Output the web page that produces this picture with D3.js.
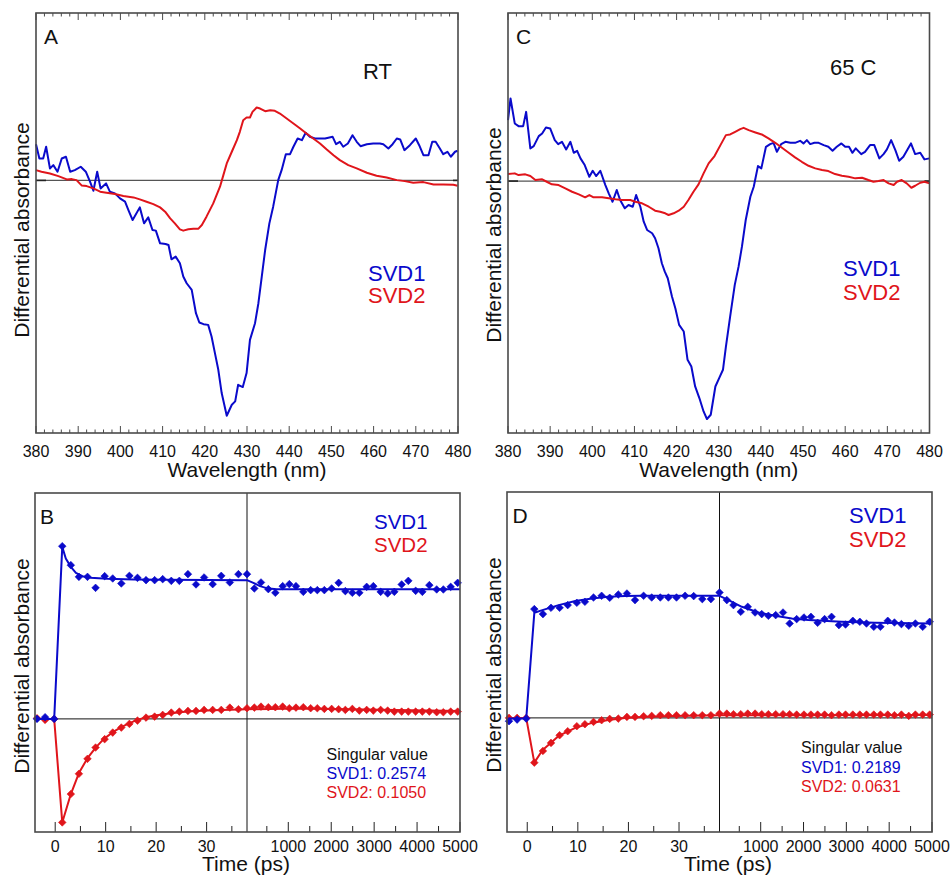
<!DOCTYPE html>
<html><head><meta charset="utf-8">
<script src="https://cdn.jsdelivr.net/npm/d3@7"></script>
<style>
body{margin:0;background:#fff}
svg{display:block}
text{font-family:"Liberation Sans",Arial,Helvetica,sans-serif}
</style>
</head><body>
<svg id="chart" width="951" height="879"></svg>
<script>
// ---------------- DATA ----------------
// Panel A (RT) spectra
const A_svd1_nm = [380.0,380.8,381.7,382.4,383.3,384.1,385.1,386.1,387.1,388.1,389.2,390.6,391.8,392.8,393.6,394.5,395.3,396.6,397.5,398.7,399.9,401.1,401.9,402.9,404.6,405.6,406.6,407.6,408.4,409.4,410.7,411.4,412.1,413.1,414.1,414.9,415.7,416.9,417.9,418.7,419.7,420.8,421.6,422.4,423.2,424.0,425.2,426.4,427.2,427.9,429.0,429.9,430.7,431.9,432.7,433.5,434.3,435.3,436.2,437.4,438.2,439.2,440.2,441.0,442.0,443.0,443.9,444.9,446.1,447.3,448.5,450.3,451.1,452.0,452.8,453.9,455.0,456.0,456.9,458.4,459.9,461.5,462.3,463.5,464.5,465.5,466.3,467.3,468.6,470.0,470.8,471.8,473.0,473.9,474.7,475.7,476.5,477.5,478.3,479.3,479.9];
const A_svd1 = [0.363,0.220,0.220,0.337,0.120,0.153,0.087,0.220,0.237,0.087,0.103,0.137,0.087,-0.013,-0.103,0.087,-0.080,-0.030,-0.113,-0.130,-0.180,-0.213,-0.297,-0.397,-0.270,-0.430,-0.370,-0.497,-0.503,-0.630,-0.637,-0.647,-0.790,-0.763,-0.830,-0.963,-1.030,-1.097,-1.330,-1.423,-1.440,-1.447,-1.563,-1.730,-1.897,-2.130,-2.357,-2.247,-2.213,-2.047,-2.070,-1.930,-1.597,-1.430,-1.230,-0.963,-0.697,-0.430,-0.263,0.003,0.103,0.263,0.263,0.337,0.420,0.403,0.477,0.437,0.420,0.420,0.420,0.437,0.363,0.387,0.337,0.370,0.453,0.387,0.343,0.363,0.370,0.370,0.363,0.320,0.363,0.420,0.410,0.303,0.353,0.420,0.353,0.253,0.253,0.387,0.387,0.320,0.263,0.287,0.237,0.287,0.297];
const A_svd2_nm = [380.0,381.3,383.3,385.3,387.3,388.5,389.6,390.8,392.0,393.6,395.2,396.7,398.7,400.7,403.1,404.6,406.2,407.8,409.4,410.6,411.8,412.9,414.1,414.9,416.1,417.3,418.5,419.3,420.4,422.0,423.6,424.4,425.2,426.4,427.6,428.3,429.1,429.9,430.7,431.3,432.3,433.1,434.3,435.5,436.6,437.8,439.4,441.0,442.6,444.1,445.7,447.3,448.9,450.5,452.0,454.0,456.0,458.4,460.7,463.1,465.5,467.4,469.4,471.8,474.2,476.5,478.9,479.9];
const A_svd2 = [0.103,0.087,0.070,0.043,0.010,0.013,0.003,-0.050,-0.057,-0.080,-0.113,-0.123,-0.137,-0.157,-0.170,-0.190,-0.213,-0.237,-0.270,-0.313,-0.380,-0.430,-0.490,-0.503,-0.490,-0.483,-0.483,-0.447,-0.363,-0.230,-0.063,0.053,0.170,0.287,0.403,0.487,0.603,0.630,0.630,0.687,0.730,0.720,0.693,0.703,0.697,0.670,0.620,0.570,0.520,0.470,0.420,0.370,0.310,0.253,0.203,0.153,0.120,0.077,0.047,0.030,0.003,-0.007,-0.023,-0.017,-0.040,-0.040,-0.043,-0.053];

// Panel C (65 C) spectra
const C_svd1_nm = [380.0,380.6,381.6,382.5,383.6,384.3,385.3,386.1,387.3,388.1,389.0,390.0,391.1,391.9,392.8,393.8,394.8,395.6,396.4,397.2,398.2,399.3,400.1,400.9,401.9,403.1,403.9,404.8,405.8,406.6,407.7,408.6,409.6,410.4,411.4,412.2,413.0,414.2,414.9,415.7,416.5,417.2,417.9,418.9,419.7,420.6,421.7,422.6,423.5,424.4,425.4,426.4,427.2,428.1,429.2,430.1,431.0,431.7,432.7,433.8,434.7,435.5,436.4,437.5,438.3,439.3,440.1,441.2,442.2,443.0,443.8,444.8,445.8,447.0,448.1,449.3,450.1,450.9,451.7,452.7,453.7,454.9,456.0,457.0,458.0,459.1,460.0,460.9,461.7,462.5,463.8,464.7,465.9,466.9,468.1,469.1,469.9,470.9,471.9,472.8,473.8,475.6,476.6,477.8,478.8,480.0];
const C_svd1 = [0.610,0.827,0.577,0.550,0.550,0.693,0.327,0.350,0.450,0.477,0.537,0.527,0.410,0.370,0.393,0.317,0.393,0.283,0.303,0.227,0.160,0.043,0.103,0.050,0.103,-0.040,-0.123,-0.207,-0.090,-0.190,-0.273,-0.240,-0.257,-0.140,-0.257,-0.407,-0.490,-0.523,-0.573,-0.673,-0.823,-0.907,-0.973,-1.157,-1.273,-1.440,-1.507,-1.790,-1.857,-2.057,-2.173,-2.307,-2.383,-2.340,-2.057,-1.973,-1.890,-1.657,-1.357,-1.040,-0.857,-0.657,-0.390,-0.157,-0.057,0.150,0.127,0.343,0.370,0.383,0.293,0.370,0.393,0.383,0.383,0.403,0.377,0.410,0.370,0.383,0.383,0.360,0.343,0.303,0.343,0.377,0.343,0.343,0.283,0.327,0.270,0.293,0.360,0.360,0.227,0.270,0.317,0.410,0.310,0.203,0.243,0.377,0.270,0.283,0.217,0.227];
const C_svd2_nm = [380.0,381.6,382.5,384.1,385.3,386.5,388.1,389.2,390.4,392.0,393.6,395.2,396.8,398.3,399.3,400.3,402.3,403.9,405.5,407.0,409.0,410.2,411.8,413.4,414.9,416.1,417.3,418.1,419.3,420.5,421.7,422.8,424.0,425.2,426.4,427.6,429.0,430.4,431.7,432.7,433.9,435.1,435.9,437.1,438.7,440.2,441.8,443.4,445.0,446.6,448.1,449.7,451.3,452.9,454.5,456.0,457.6,459.2,460.8,462.4,464.0,465.5,466.7,467.9,469.1,470.3,471.5,472.3,473.4,474.6,475.7,476.6,477.8,478.8,480.0];
const C_svd2 = [0.070,0.077,0.060,0.067,0.050,0.010,0.017,-0.007,-0.033,-0.040,-0.073,-0.107,-0.133,-0.163,-0.140,-0.163,-0.163,-0.173,-0.183,-0.190,-0.190,-0.207,-0.223,-0.257,-0.297,-0.307,-0.323,-0.340,-0.323,-0.297,-0.257,-0.190,-0.107,-0.033,0.077,0.177,0.250,0.360,0.460,0.467,0.493,0.520,0.533,0.510,0.487,0.467,0.427,0.383,0.333,0.283,0.237,0.193,0.153,0.127,0.110,0.100,0.070,0.053,0.043,0.027,0.033,0.010,-0.007,0.000,0.010,-0.023,-0.040,-0.007,0.010,-0.023,-0.067,-0.047,-0.017,-0.007,-0.023];

// Kinetics (B, D): shared delay times (ps)
const delayTimes = [-3.6,-2.0,-0.2,1.4,3.1,4.7,6.4,8.0,9.8,11.4,13.1,14.7,16.3,18.0,19.7,21.3,23.0,24.6,26.3,27.9,29.5,31.2,32.9,34.6,36.3,38.0,
  209,364,535,698,869,1024,1179,1350,1521,1676,1840,2010,2173,2329,2492,2655,2826,2981,3152,3315,3470,3641,3796,3967,4123,4286,4457,4612,4783,4946];
const B_svd1 = [0.000,0.017,0.000,1.730,1.540,1.423,1.423,1.313,1.430,1.407,1.357,1.433,1.413,1.390,1.390,1.400,1.383,1.383,1.450,1.347,1.417,1.350,1.433,1.367,1.450,1.450,
  1.307,1.367,1.300,1.263,1.330,1.350,1.330,1.273,1.290,1.290,1.290,1.307,1.363,1.280,1.263,1.263,1.323,1.330,1.273,1.257,1.273,1.347,1.383,1.283,1.273,1.340,1.297,1.297,1.323,1.363];
const B_svd2 = [0.007,-0.010,0.000,-1.037,-0.753,-0.550,-0.400,-0.287,-0.203,-0.137,-0.087,-0.050,-0.017,0.013,0.023,0.040,0.063,0.073,0.080,0.080,0.090,0.090,0.090,0.113,0.097,0.107,
  0.113,0.123,0.117,0.117,0.123,0.107,0.113,0.117,0.107,0.107,0.100,0.100,0.097,0.090,0.100,0.083,0.090,0.083,0.090,0.083,0.073,0.073,0.073,0.073,0.073,0.073,0.067,0.067,0.073,0.073];
const D_svd1 = [-0.033,-0.017,-0.007,1.087,1.037,1.100,1.100,1.127,1.150,1.160,1.203,1.220,1.200,1.233,1.243,1.177,1.220,1.203,1.203,1.203,1.203,1.220,1.217,1.187,1.187,1.253,
  1.177,1.127,1.060,1.110,1.053,1.037,1.020,1.027,1.053,0.943,0.987,1.003,1.010,0.950,0.987,1.010,0.927,0.933,0.970,0.960,0.943,0.910,0.910,0.970,0.953,0.937,0.920,0.943,0.910,0.960];
const D_svd2 = [0,0,0,-0.447,-0.330,-0.250,-0.173,-0.133,-0.083,-0.063,-0.040,-0.023,-0.010,-0.007,0.010,0.010,0.017,0.020,0.027,0.027,0.027,0.027,0.027,0.027,0.027,0.043,
  0.043,0.037,0.037,0.043,0.043,0.037,0.037,0.037,0.037,0.037,0.033,0.033,0.033,0.033,0.033,0.027,0.033,0.033,0.033,0.033,0.033,0.033,0.033,0.033,0.027,0.033,0.020,0.033,0.033,0.033];

// Fit curves
const B_fit1_t = [-3.6,-0.2,1.4,2.1,3.1,4.1,5.4,7.0,10.3,15.6,22.1,38,186,341,496,729,5000];
const B_fit1   = [0,0,1.723,1.607,1.523,1.463,1.430,1.413,1.403,1.397,1.393,1.390,1.363,1.330,1.310,1.300,1.300];
const B_fit2_t = [-3.6,-0.2,1.4,3.1,4.7,6.4,8.1,9.6,11.4,13.1,14.7,16.3,18.0,19.7,23.0,26.2,31.3,38,1273,5000];
const B_fit2   = [0,0,-1.037,-0.753,-0.543,-0.393,-0.283,-0.203,-0.133,-0.083,-0.043,-0.010,0.017,0.033,0.057,0.073,0.087,0.097,0.103,0.080];
const D_fit1_t = [-3.6,-0.2,1.4,3.0,6.2,9.5,12.8,16.0,19.3,22.6,38,248,560,947,1336,1726,2113,2891,3667,5000];
const D_fit1   = [-0.007,-0.007,1.050,1.077,1.127,1.167,1.193,1.210,1.217,1.220,1.220,1.177,1.110,1.053,1.020,0.993,0.977,0.960,0.950,0.943];
const D_fit2_t = [-3.6,-0.2,1.4,3.0,6.2,9.5,12.8,16.0,19.3,22.6,29.1,38,5000];
const D_fit2   = [0,0,-0.447,-0.323,-0.180,-0.100,-0.050,-0.020,0,0.010,0.020,0.027,0.030];

// Tick labels
const wavelengthTicks = [380,390,400,410,420,430,440,450,460,470,480];
const timeTicksShort = [0,10,20,30];
const timeTicksLong = [1000,2000,3000,4000,5000];

// ---------------- DRAWING ----------------
const BLUE = "#0a0acb", RED = "#e0151b", FRAME = "#4a4a4a";
const svg = d3.select("#chart");

function yLabel(x, y){
  svg.append("text").attr("transform", `translate(${x},${y}) rotate(-90)`)
    .attr("text-anchor","middle").attr("font-size",21).attr("fill","#111")
    .text("Differential absorbance");
}
function txt(x, y, s, size, color, anchor){
  svg.append("text").attr("x",x).attr("y",y).attr("font-size",size)
    .attr("fill",color||"#111").attr("text-anchor",anchor||"start").text(s);
}

function spectrumPanel(p){
  const x = d3.scaleLinear().domain([380,480]).range([p.x0,p.x1]);
  const y = d3.scaleLinear().domain(p.yDomain).range([p.y1,p.y0]);
  const g = svg.append("g");
  g.append("line").attr("x1",p.x0).attr("x2",p.x1).attr("y1",y(0)).attr("y2",y(0))
    .attr("stroke","#555").attr("stroke-width",1.3);
  g.append("line").attr("x1",p.x0).attr("x2",p.x0+10).attr("y1",y(0)).attr("y2",y(0))
    .attr("stroke","#222").attr("stroke-width",1.6);
  g.append("line").attr("x1",p.x1-5).attr("x2",p.x1).attr("y1",y(0)).attr("y2",y(0))
    .attr("stroke","#222").attr("stroke-width",1.6);
  const line = d3.line().x(d=>x(d[0])).y(d=>y(d[1]));
  g.append("path").datum(d3.zip(p.nm1,p.v1)).attr("d",line)
    .attr("fill","none").attr("stroke",BLUE).attr("stroke-width",2).attr("stroke-linejoin","round");
  g.append("path").datum(d3.zip(p.nm2,p.v2)).attr("d",line)
    .attr("fill","none").attr("stroke",RED).attr("stroke-width",2).attr("stroke-linejoin","round");
  // ticks top & bottom, inward
  const tk = d3.range(380,481,2);
  tk.forEach(v=>{
    const len = v%10===0 ? 7 : 3.5;
    g.append("line").attr("x1",x(v)).attr("x2",x(v)).attr("y1",p.y1).attr("y2",p.y1-len)
      .attr("stroke",FRAME).attr("stroke-width",1);
    g.append("line").attr("x1",x(v)).attr("x2",x(v)).attr("y1",p.y0).attr("y2",p.y0+len)
      .attr("stroke",FRAME).attr("stroke-width",1);
  });
  g.append("rect").attr("x",p.x0).attr("y",p.y0).attr("width",p.x1-p.x0).attr("height",p.y1-p.y0)
    .attr("fill","none").attr("stroke",FRAME).attr("stroke-width",1.6);
  wavelengthTicks.forEach(v=>txt(x(v), p.y1+24, v, 16, "#111", "middle"));
  txt((p.x0+p.x1)/2, p.y1+44, "Wavelength (nm)", 21, "#111", "middle");
}

function kineticsPanel(p){
  const xl = d3.scaleLinear().domain([-4,38]).range([p.x0,p.xd]);
  const xr = d3.scaleLinear().domain([38,5000]).range([p.xd,p.x1]);
  const tx = t => t <= 38 ? xl(t) : xr(t);
  const y = d3.scaleLinear().domain(p.yDomain).range([p.y1,p.y0]);
  const g = svg.append("g");
  g.append("line").attr("x1",p.x0).attr("x2",p.x1).attr("y1",y(0)).attr("y2",y(0))
    .attr("stroke","#111").attr("stroke-width",1);
  g.append("line").attr("x1",p.xd).attr("x2",p.xd).attr("y1",p.y0).attr("y2",p.y1)
    .attr("stroke","#111").attr("stroke-width",1);
  const line = d3.line().x(d=>tx(d[0])).y(d=>y(d[1]));
  const diamond = "M0,-3.8L3.8,0L0,3.8L-3.8,0Z";
  [[p.s2,RED,p.f2t,p.f2],[p.s1,BLUE,p.f1t,p.f1]].forEach(([vals,col,ft,fv])=>{
    g.append("path").datum(d3.zip(ft,fv)).attr("d",line)
      .attr("fill","none").attr("stroke",col).attr("stroke-width",2).attr("stroke-linejoin","round");
    g.selectAll(null).data(d3.zip(delayTimes,vals)).join("path")
      .attr("d",diamond).attr("transform",d=>`translate(${tx(d[0])},${y(d[1])})`)
      .attr("fill",col).attr("stroke",col).attr("stroke-width",0.6);
  });
  // bottom ticks
  [5,15,25,35].forEach(v=>g.append("line").attr("x1",xl(v)).attr("x2",xl(v)).attr("y1",p.y1).attr("y2",p.y1-6).attr("stroke","#222"));
  timeTicksShort.forEach(v=>g.append("line").attr("x1",xl(v)).attr("x2",xl(v)).attr("y1",p.y1).attr("y2",p.y1-10).attr("stroke","#222"));
  [500,1500,2500,3500,4500].forEach(v=>g.append("line").attr("x1",xr(v)).attr("x2",xr(v)).attr("y1",p.y1).attr("y2",p.y1-6).attr("stroke","#222"));
  timeTicksLong.forEach(v=>g.append("line").attr("x1",xr(v)).attr("x2",xr(v)).attr("y1",p.y1).attr("y2",p.y1-10).attr("stroke","#222"));
  g.append("rect").attr("x",p.x0).attr("y",p.y0).attr("width",p.x1-p.x0).attr("height",p.y1-p.y0)
    .attr("fill","none").attr("stroke",FRAME).attr("stroke-width",1.6);
  timeTicksShort.forEach(v=>txt(xl(v), p.y1+20, v, 16, "#111", "middle"));
  timeTicksLong.forEach(v=>txt(xr(v), p.y1+20, v, 16, "#111", "middle"));
  txt(p.titleX, p.y1+39, "Time (ps)", 21, "#111", "middle");
}

spectrumPanel({x0:36,x1:458,y0:13,y1:433,yDomain:[-2.53,1.677],nm1:A_svd1_nm,v1:A_svd1,nm2:A_svd2_nm,v2:A_svd2});
spectrumPanel({x0:508,x1:929.5,y0:13,y1:433,yDomain:[-2.523,1.683],nm1:C_svd1_nm,v1:C_svd1,nm2:C_svd2_nm,v2:C_svd2});
kineticsPanel({x0:35,xd:247,x1:460,y0:493,y1:832,yDomain:[-1.133,2.263],s1:B_svd1,s2:B_svd2,
  f1t:B_fit1_t,f1:B_fit1,f2t:B_fit2_t,f2:B_fit2,titleX:246});
kineticsPanel({x0:507,xd:719.5,x1:932,y0:492,y1:832,yDomain:[-1.14,2.257],s1:D_svd1,s2:D_svd2,
  f1t:D_fit1_t,f1:D_fit1,f2t:D_fit2_t,f2:D_fit2,titleX:728});

yLabel(28.5,230); yLabel(500.5,235); yLabel(28.5,666); yLabel(500.5,665);

// annotations
txt(44,43.5,"A",21); txt(516,44,"C",21); txt(40,524,"B",21); txt(512.5,522.7,"D",21);
txt(363,79,"RT",22); txt(830,75,"65 C",22);
txt(368,281,"SVD1",22,BLUE); txt(368,303.3,"SVD2",22,RED);
txt(843,276,"SVD1",22,BLUE); txt(843,300,"SVD2",22,RED);
txt(374,529.3,"SVD1",20.5,BLUE); txt(374,551.7,"SVD2",20.5,RED);
txt(849,522.7,"SVD1",22,BLUE); txt(849,547.3,"SVD2",22,RED);
txt(326.5,760,"Singular value",16); txt(326.5,779.3,"SVD1: 0.2574",16,BLUE); txt(326.5,798.3,"SVD2: 0.1050",16,RED);
txt(801,753.3,"Singular value",16); txt(801,773.3,"SVD1: 0.2189",16,BLUE); txt(801,792.3,"SVD2: 0.0631",16,RED);
</script>
</body></html>
